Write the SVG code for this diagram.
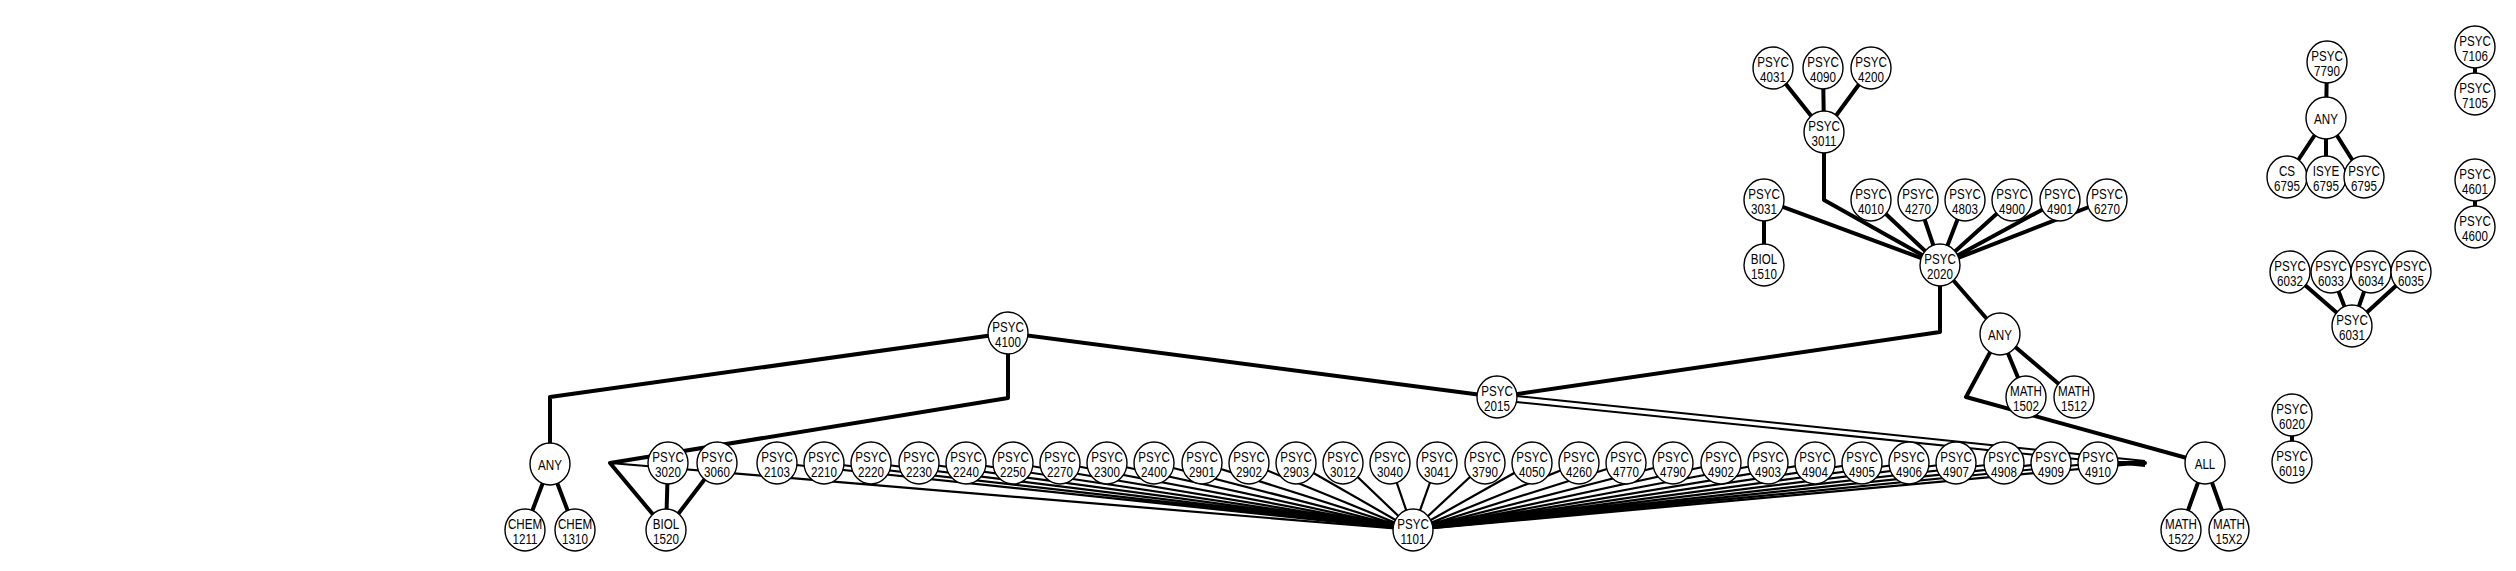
<svg xmlns="http://www.w3.org/2000/svg" width="2516" height="571" viewBox="0 0 2516 571">
<style>
.n{fill:#fff;stroke:#000;stroke-width:1.4}
.t{font-family:"Liberation Sans",Arial,sans-serif;font-size:14.5px;fill:#000;text-anchor:middle}
.e{fill:none;stroke:#000;stroke-width:4;stroke-linejoin:round;stroke-linecap:round}
.f{fill:none;stroke:#000;stroke-width:2.2}
.d{fill:none;stroke:#000;stroke-width:2}
</style>
<rect width="2516" height="571" fill="#fff"/>
<g id="connectors">
<g class="f">
<path d="M1413 530L777 463M1413 530L824 463M1413 530L871 463M1413 530L919 463M1413 530L966 463M1413 530L1013 463M1413 530L1060 463M1413 530L1107 463M1413 530L1154 463M1413 530L1202 463M1413 530L1249 463M1413 530L1296 463M1413 530L1343 463M1413 530L1390 463M1413 530L1437 463M1413 530L1485 463M1413 530L1532 463M1413 530L1579 463M1413 530L1626 463M1413 530L1673 463M1413 530L1721 463M1413 530L1768 463M1413 530L1815 463M1413 530L1862 463M1413 530L1909 463M1413 530L1956 463M1413 530L2004 463M1413 530L2051 463M1413 530L2098 463"/>
<path d="M1413 530L610 463M1413 530L2145 463"/>
</g>
<path class="e" d="M1008 333L550 397L550 464"/>
<path class="e" d="M550 464L525 530M550 464L575 530"/>
<path class="e" d="M1008 333L1008 398L610 463L666 530"/>
<path class="e" d="M666 530L668 463M666 530L717 463"/>
<path class="e" d="M1008 333L1497 397"/>
<path class="d" d="M1497 394L2145 461M1497 400L2145 466"/>
<path class="e" d="M2098 463L2145 463"/>
<path class="e" d="M1940 265L1940 332L1497 397"/>
<path class="e" d="M1940 265L2000 334"/>
<path class="e" d="M2000 334L2026 397M2000 334L2074 397"/>
<path class="e" d="M2000 334L1966 397L2205 463"/>
<path class="e" d="M2205 463L2181 530M2205 463L2229 530"/>
<path class="e" d="M1940 265L1764 200L1764 265"/>
<path class="e" d="M1940 265L1824 200L1824 132"/>
<path class="e" d="M1824 132L1773 68M1824 132L1823 68M1824 132L1871 68"/>
<path class="e" d="M1940 265L1871 200M1940 265L1918 200M1940 265L1965 200M1940 265L2012 200M1940 265L2060 200M1940 265L2107 200"/>
<path class="e" d="M2327 62L2326 118M2326 118L2287 177M2326 118L2326 177M2326 118L2363 177"/>
<path class="e" d="M2475 47L2475 94M2475 180L2475 227M2292 415L2292 462"/>
<path class="e" d="M2352 326L2290 272M2352 326L2331 272M2352 326L2371 272M2352 326L2411 272"/>
</g>
<g id="nodes">
<g id="psyc4100" transform="translate(1008,333)"><ellipse class="n" rx="20" ry="21"/><text class="t" transform="scale(0.8,1)"><tspan x="0" y="-1.5">PSYC</tspan><tspan x="0" y="14.5">4100</tspan></text></g>
<g id="any1" transform="translate(550,464)"><ellipse class="n" rx="20" ry="21"/><text class="t" transform="scale(0.8,1)"><tspan x="0" y="5.5">ANY</tspan></text></g>
<g id="chem1211" transform="translate(525,530)"><ellipse class="n" rx="20" ry="21"/><text class="t" transform="scale(0.8,1)"><tspan x="0" y="-1.5">CHEM</tspan><tspan x="0" y="14.5">1211</tspan></text></g>
<g id="chem1310" transform="translate(575,530)"><ellipse class="n" rx="20" ry="21"/><text class="t" transform="scale(0.8,1)"><tspan x="0" y="-1.5">CHEM</tspan><tspan x="0" y="14.5">1310</tspan></text></g>
<g id="psyc3020" transform="translate(668,463)"><ellipse class="n" rx="20" ry="21"/><text class="t" transform="scale(0.8,1)"><tspan x="0" y="-1.5">PSYC</tspan><tspan x="0" y="14.5">3020</tspan></text></g>
<g id="psyc3060" transform="translate(717,463)"><ellipse class="n" rx="20" ry="21"/><text class="t" transform="scale(0.8,1)"><tspan x="0" y="-1.5">PSYC</tspan><tspan x="0" y="14.5">3060</tspan></text></g>
<g id="biol1520" transform="translate(666,530)"><ellipse class="n" rx="20" ry="21"/><text class="t" transform="scale(0.8,1)"><tspan x="0" y="-1.5">BIOL</tspan><tspan x="0" y="14.5">1520</tspan></text></g>
<g id="psyc2103" transform="translate(777,463)"><ellipse class="n" rx="20" ry="21"/><text class="t" transform="scale(0.8,1)"><tspan x="0" y="-1.5">PSYC</tspan><tspan x="0" y="14.5">2103</tspan></text></g>
<g id="psyc2210" transform="translate(824,463)"><ellipse class="n" rx="20" ry="21"/><text class="t" transform="scale(0.8,1)"><tspan x="0" y="-1.5">PSYC</tspan><tspan x="0" y="14.5">2210</tspan></text></g>
<g id="psyc2220" transform="translate(871,463)"><ellipse class="n" rx="20" ry="21"/><text class="t" transform="scale(0.8,1)"><tspan x="0" y="-1.5">PSYC</tspan><tspan x="0" y="14.5">2220</tspan></text></g>
<g id="psyc2230" transform="translate(919,463)"><ellipse class="n" rx="20" ry="21"/><text class="t" transform="scale(0.8,1)"><tspan x="0" y="-1.5">PSYC</tspan><tspan x="0" y="14.5">2230</tspan></text></g>
<g id="psyc2240" transform="translate(966,463)"><ellipse class="n" rx="20" ry="21"/><text class="t" transform="scale(0.8,1)"><tspan x="0" y="-1.5">PSYC</tspan><tspan x="0" y="14.5">2240</tspan></text></g>
<g id="psyc2250" transform="translate(1013,463)"><ellipse class="n" rx="20" ry="21"/><text class="t" transform="scale(0.8,1)"><tspan x="0" y="-1.5">PSYC</tspan><tspan x="0" y="14.5">2250</tspan></text></g>
<g id="psyc2270" transform="translate(1060,463)"><ellipse class="n" rx="20" ry="21"/><text class="t" transform="scale(0.8,1)"><tspan x="0" y="-1.5">PSYC</tspan><tspan x="0" y="14.5">2270</tspan></text></g>
<g id="psyc2300" transform="translate(1107,463)"><ellipse class="n" rx="20" ry="21"/><text class="t" transform="scale(0.8,1)"><tspan x="0" y="-1.5">PSYC</tspan><tspan x="0" y="14.5">2300</tspan></text></g>
<g id="psyc2400" transform="translate(1154,463)"><ellipse class="n" rx="20" ry="21"/><text class="t" transform="scale(0.8,1)"><tspan x="0" y="-1.5">PSYC</tspan><tspan x="0" y="14.5">2400</tspan></text></g>
<g id="psyc2901" transform="translate(1202,463)"><ellipse class="n" rx="20" ry="21"/><text class="t" transform="scale(0.8,1)"><tspan x="0" y="-1.5">PSYC</tspan><tspan x="0" y="14.5">2901</tspan></text></g>
<g id="psyc2902" transform="translate(1249,463)"><ellipse class="n" rx="20" ry="21"/><text class="t" transform="scale(0.8,1)"><tspan x="0" y="-1.5">PSYC</tspan><tspan x="0" y="14.5">2902</tspan></text></g>
<g id="psyc2903" transform="translate(1296,463)"><ellipse class="n" rx="20" ry="21"/><text class="t" transform="scale(0.8,1)"><tspan x="0" y="-1.5">PSYC</tspan><tspan x="0" y="14.5">2903</tspan></text></g>
<g id="psyc3012" transform="translate(1343,463)"><ellipse class="n" rx="20" ry="21"/><text class="t" transform="scale(0.8,1)"><tspan x="0" y="-1.5">PSYC</tspan><tspan x="0" y="14.5">3012</tspan></text></g>
<g id="psyc3040" transform="translate(1390,463)"><ellipse class="n" rx="20" ry="21"/><text class="t" transform="scale(0.8,1)"><tspan x="0" y="-1.5">PSYC</tspan><tspan x="0" y="14.5">3040</tspan></text></g>
<g id="psyc3041" transform="translate(1437,463)"><ellipse class="n" rx="20" ry="21"/><text class="t" transform="scale(0.8,1)"><tspan x="0" y="-1.5">PSYC</tspan><tspan x="0" y="14.5">3041</tspan></text></g>
<g id="psyc3790" transform="translate(1485,463)"><ellipse class="n" rx="20" ry="21"/><text class="t" transform="scale(0.8,1)"><tspan x="0" y="-1.5">PSYC</tspan><tspan x="0" y="14.5">3790</tspan></text></g>
<g id="psyc4050" transform="translate(1532,463)"><ellipse class="n" rx="20" ry="21"/><text class="t" transform="scale(0.8,1)"><tspan x="0" y="-1.5">PSYC</tspan><tspan x="0" y="14.5">4050</tspan></text></g>
<g id="psyc4260" transform="translate(1579,463)"><ellipse class="n" rx="20" ry="21"/><text class="t" transform="scale(0.8,1)"><tspan x="0" y="-1.5">PSYC</tspan><tspan x="0" y="14.5">4260</tspan></text></g>
<g id="psyc4770" transform="translate(1626,463)"><ellipse class="n" rx="20" ry="21"/><text class="t" transform="scale(0.8,1)"><tspan x="0" y="-1.5">PSYC</tspan><tspan x="0" y="14.5">4770</tspan></text></g>
<g id="psyc4790" transform="translate(1673,463)"><ellipse class="n" rx="20" ry="21"/><text class="t" transform="scale(0.8,1)"><tspan x="0" y="-1.5">PSYC</tspan><tspan x="0" y="14.5">4790</tspan></text></g>
<g id="psyc4902" transform="translate(1721,463)"><ellipse class="n" rx="20" ry="21"/><text class="t" transform="scale(0.8,1)"><tspan x="0" y="-1.5">PSYC</tspan><tspan x="0" y="14.5">4902</tspan></text></g>
<g id="psyc4903" transform="translate(1768,463)"><ellipse class="n" rx="20" ry="21"/><text class="t" transform="scale(0.8,1)"><tspan x="0" y="-1.5">PSYC</tspan><tspan x="0" y="14.5">4903</tspan></text></g>
<g id="psyc4904" transform="translate(1815,463)"><ellipse class="n" rx="20" ry="21"/><text class="t" transform="scale(0.8,1)"><tspan x="0" y="-1.5">PSYC</tspan><tspan x="0" y="14.5">4904</tspan></text></g>
<g id="psyc4905" transform="translate(1862,463)"><ellipse class="n" rx="20" ry="21"/><text class="t" transform="scale(0.8,1)"><tspan x="0" y="-1.5">PSYC</tspan><tspan x="0" y="14.5">4905</tspan></text></g>
<g id="psyc4906" transform="translate(1909,463)"><ellipse class="n" rx="20" ry="21"/><text class="t" transform="scale(0.8,1)"><tspan x="0" y="-1.5">PSYC</tspan><tspan x="0" y="14.5">4906</tspan></text></g>
<g id="psyc4907" transform="translate(1956,463)"><ellipse class="n" rx="20" ry="21"/><text class="t" transform="scale(0.8,1)"><tspan x="0" y="-1.5">PSYC</tspan><tspan x="0" y="14.5">4907</tspan></text></g>
<g id="psyc4908" transform="translate(2004,463)"><ellipse class="n" rx="20" ry="21"/><text class="t" transform="scale(0.8,1)"><tspan x="0" y="-1.5">PSYC</tspan><tspan x="0" y="14.5">4908</tspan></text></g>
<g id="psyc4909" transform="translate(2051,463)"><ellipse class="n" rx="20" ry="21"/><text class="t" transform="scale(0.8,1)"><tspan x="0" y="-1.5">PSYC</tspan><tspan x="0" y="14.5">4909</tspan></text></g>
<g id="psyc4910" transform="translate(2098,463)"><ellipse class="n" rx="20" ry="21"/><text class="t" transform="scale(0.8,1)"><tspan x="0" y="-1.5">PSYC</tspan><tspan x="0" y="14.5">4910</tspan></text></g>
<g id="psyc1101" transform="translate(1413,530)"><ellipse class="n" rx="20" ry="21"/><text class="t" transform="scale(0.8,1)"><tspan x="0" y="-1.5">PSYC</tspan><tspan x="0" y="14.5">1101</tspan></text></g>
<g id="psyc2015" transform="translate(1497,397)"><ellipse class="n" rx="20" ry="21"/><text class="t" transform="scale(0.8,1)"><tspan x="0" y="-1.5">PSYC</tspan><tspan x="0" y="14.5">2015</tspan></text></g>
<g id="psyc2020" transform="translate(1940,265)"><ellipse class="n" rx="20" ry="21"/><text class="t" transform="scale(0.8,1)"><tspan x="0" y="-1.5">PSYC</tspan><tspan x="0" y="14.5">2020</tspan></text></g>
<g id="any2" transform="translate(2000,334)"><ellipse class="n" rx="20" ry="21"/><text class="t" transform="scale(0.8,1)"><tspan x="0" y="5.5">ANY</tspan></text></g>
<g id="math1502" transform="translate(2026,397)"><ellipse class="n" rx="20" ry="21"/><text class="t" transform="scale(0.8,1)"><tspan x="0" y="-1.5">MATH</tspan><tspan x="0" y="14.5">1502</tspan></text></g>
<g id="math1512" transform="translate(2074,397)"><ellipse class="n" rx="20" ry="21"/><text class="t" transform="scale(0.8,1)"><tspan x="0" y="-1.5">MATH</tspan><tspan x="0" y="14.5">1512</tspan></text></g>
<g id="all" transform="translate(2205,463)"><ellipse class="n" rx="20" ry="21"/><text class="t" transform="scale(0.8,1)"><tspan x="0" y="5.5">ALL</tspan></text></g>
<g id="math1522" transform="translate(2181,530)"><ellipse class="n" rx="20" ry="21"/><text class="t" transform="scale(0.8,1)"><tspan x="0" y="-1.5">MATH</tspan><tspan x="0" y="14.5">1522</tspan></text></g>
<g id="math15x2" transform="translate(2229,530)"><ellipse class="n" rx="20" ry="21"/><text class="t" transform="scale(0.8,1)"><tspan x="0" y="-1.5">MATH</tspan><tspan x="0" y="14.5">15X2</tspan></text></g>
<g id="psyc3031" transform="translate(1764,200)"><ellipse class="n" rx="20" ry="21"/><text class="t" transform="scale(0.8,1)"><tspan x="0" y="-1.5">PSYC</tspan><tspan x="0" y="14.5">3031</tspan></text></g>
<g id="biol1510" transform="translate(1764,265)"><ellipse class="n" rx="20" ry="21"/><text class="t" transform="scale(0.8,1)"><tspan x="0" y="-1.5">BIOL</tspan><tspan x="0" y="14.5">1510</tspan></text></g>
<g id="psyc3011" transform="translate(1824,132)"><ellipse class="n" rx="20" ry="21"/><text class="t" transform="scale(0.8,1)"><tspan x="0" y="-1.5">PSYC</tspan><tspan x="0" y="14.5">3011</tspan></text></g>
<g id="psyc4031" transform="translate(1773,68)"><ellipse class="n" rx="20" ry="21"/><text class="t" transform="scale(0.8,1)"><tspan x="0" y="-1.5">PSYC</tspan><tspan x="0" y="14.5">4031</tspan></text></g>
<g id="psyc4090" transform="translate(1823,68)"><ellipse class="n" rx="20" ry="21"/><text class="t" transform="scale(0.8,1)"><tspan x="0" y="-1.5">PSYC</tspan><tspan x="0" y="14.5">4090</tspan></text></g>
<g id="psyc4200" transform="translate(1871,68)"><ellipse class="n" rx="20" ry="21"/><text class="t" transform="scale(0.8,1)"><tspan x="0" y="-1.5">PSYC</tspan><tspan x="0" y="14.5">4200</tspan></text></g>
<g id="psyc4010" transform="translate(1871,200)"><ellipse class="n" rx="20" ry="21"/><text class="t" transform="scale(0.8,1)"><tspan x="0" y="-1.5">PSYC</tspan><tspan x="0" y="14.5">4010</tspan></text></g>
<g id="psyc4270" transform="translate(1918,200)"><ellipse class="n" rx="20" ry="21"/><text class="t" transform="scale(0.8,1)"><tspan x="0" y="-1.5">PSYC</tspan><tspan x="0" y="14.5">4270</tspan></text></g>
<g id="psyc4803" transform="translate(1965,200)"><ellipse class="n" rx="20" ry="21"/><text class="t" transform="scale(0.8,1)"><tspan x="0" y="-1.5">PSYC</tspan><tspan x="0" y="14.5">4803</tspan></text></g>
<g id="psyc4900" transform="translate(2012,200)"><ellipse class="n" rx="20" ry="21"/><text class="t" transform="scale(0.8,1)"><tspan x="0" y="-1.5">PSYC</tspan><tspan x="0" y="14.5">4900</tspan></text></g>
<g id="psyc4901" transform="translate(2060,200)"><ellipse class="n" rx="20" ry="21"/><text class="t" transform="scale(0.8,1)"><tspan x="0" y="-1.5">PSYC</tspan><tspan x="0" y="14.5">4901</tspan></text></g>
<g id="psyc6270" transform="translate(2107,200)"><ellipse class="n" rx="20" ry="21"/><text class="t" transform="scale(0.8,1)"><tspan x="0" y="-1.5">PSYC</tspan><tspan x="0" y="14.5">6270</tspan></text></g>
<g id="psyc7790" transform="translate(2327,62)"><ellipse class="n" rx="20" ry="21"/><text class="t" transform="scale(0.8,1)"><tspan x="0" y="-1.5">PSYC</tspan><tspan x="0" y="14.5">7790</tspan></text></g>
<g id="any3" transform="translate(2326,118)"><ellipse class="n" rx="20" ry="21"/><text class="t" transform="scale(0.8,1)"><tspan x="0" y="5.5">ANY</tspan></text></g>
<g id="cs6795" transform="translate(2287,177)"><ellipse class="n" rx="20" ry="21"/><text class="t" transform="scale(0.8,1)"><tspan x="0" y="-1.5">CS</tspan><tspan x="0" y="14.5">6795</tspan></text></g>
<g id="isye6795" transform="translate(2326,177)"><ellipse class="n" rx="20" ry="21"/><text class="t" transform="scale(0.8,1)"><tspan x="0" y="-1.5">ISYE</tspan><tspan x="0" y="14.5">6795</tspan></text></g>
<g id="psyc6795" transform="translate(2364,177)"><ellipse class="n" rx="20" ry="21"/><text class="t" transform="scale(0.8,1)"><tspan x="0" y="-1.5">PSYC</tspan><tspan x="0" y="14.5">6795</tspan></text></g>
<g id="psyc7106" transform="translate(2475,47)"><ellipse class="n" rx="20" ry="21"/><text class="t" transform="scale(0.8,1)"><tspan x="0" y="-1.5">PSYC</tspan><tspan x="0" y="14.5">7106</tspan></text></g>
<g id="psyc7105" transform="translate(2475,94)"><ellipse class="n" rx="20" ry="21"/><text class="t" transform="scale(0.8,1)"><tspan x="0" y="-1.5">PSYC</tspan><tspan x="0" y="14.5">7105</tspan></text></g>
<g id="psyc4601" transform="translate(2475,180)"><ellipse class="n" rx="20" ry="21"/><text class="t" transform="scale(0.8,1)"><tspan x="0" y="-1.5">PSYC</tspan><tspan x="0" y="14.5">4601</tspan></text></g>
<g id="psyc4600" transform="translate(2475,227)"><ellipse class="n" rx="20" ry="21"/><text class="t" transform="scale(0.8,1)"><tspan x="0" y="-1.5">PSYC</tspan><tspan x="0" y="14.5">4600</tspan></text></g>
<g id="psyc6032" transform="translate(2290,272)"><ellipse class="n" rx="20" ry="21"/><text class="t" transform="scale(0.8,1)"><tspan x="0" y="-1.5">PSYC</tspan><tspan x="0" y="14.5">6032</tspan></text></g>
<g id="psyc6033" transform="translate(2331,272)"><ellipse class="n" rx="20" ry="21"/><text class="t" transform="scale(0.8,1)"><tspan x="0" y="-1.5">PSYC</tspan><tspan x="0" y="14.5">6033</tspan></text></g>
<g id="psyc6034" transform="translate(2371,272)"><ellipse class="n" rx="20" ry="21"/><text class="t" transform="scale(0.8,1)"><tspan x="0" y="-1.5">PSYC</tspan><tspan x="0" y="14.5">6034</tspan></text></g>
<g id="psyc6035" transform="translate(2411,272)"><ellipse class="n" rx="20" ry="21"/><text class="t" transform="scale(0.8,1)"><tspan x="0" y="-1.5">PSYC</tspan><tspan x="0" y="14.5">6035</tspan></text></g>
<g id="psyc6031" transform="translate(2352,326)"><ellipse class="n" rx="20" ry="21"/><text class="t" transform="scale(0.8,1)"><tspan x="0" y="-1.5">PSYC</tspan><tspan x="0" y="14.5">6031</tspan></text></g>
<g id="psyc6020" transform="translate(2292,415)"><ellipse class="n" rx="20" ry="21"/><text class="t" transform="scale(0.8,1)"><tspan x="0" y="-1.5">PSYC</tspan><tspan x="0" y="14.5">6020</tspan></text></g>
<g id="psyc6019" transform="translate(2292,462)"><ellipse class="n" rx="20" ry="21"/><text class="t" transform="scale(0.8,1)"><tspan x="0" y="-1.5">PSYC</tspan><tspan x="0" y="14.5">6019</tspan></text></g>
</g>
</svg>
